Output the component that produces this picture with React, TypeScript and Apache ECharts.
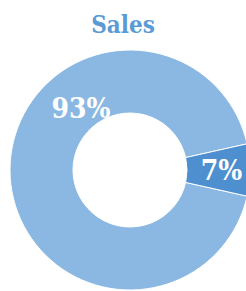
import React, { useEffect, useRef } from "react";
import * as echarts from "echarts";

const categories = ["Other", "Sales"];
const values = [93, 7];
const labels = ["93%", "7%"];
const colors = ["#8AB8E2", "#4E8FD0"];

export default function App() {
  const ref = useRef<HTMLDivElement>(null);
  useEffect(() => {
    if (!ref.current) return;
    const chart = echarts.init(ref.current, null, { renderer: "svg" });
    const font = "'DejaVu Serif Condensed', 'DejaVu Serif', serif";
    chart.setOption({
      animation: false,
      title: {
        text: "Sales",
        left: "center",
        top: 7,
        textStyle: {
          fontFamily: font,
          fontWeight: "bold",
          fontSize: 24,
          color: "#5B9BD5",
        },
      },
      series: [
        {
          type: "pie",
          center: [130, 170],
          radius: [57, 120],
          startAngle: -12.6,
          clockwise: true,
          avoidLabelOverlap: false,
          itemStyle: { borderColor: "#ffffff", borderWidth: 1 },
          label: {
            show: true,
            position: "inside",
            formatter: (p: any) => labels[p.dataIndex],
            fontFamily: font,
            fontWeight: "bold",
            fontSize: 28,
            color: "#ffffff",
          },
          labelLine: { show: false },
          labelLayout: (p: any) =>
            p.dataIndex === 0 ? { x: 81, y: 108, align: "center", verticalAlign: "middle" } : {},
          data: categories.map((c, i) => ({
            name: c,
            value: values[i],
            itemStyle: { color: colors[i] },
          })),
        },
      ],
    });
    return () => chart.dispose();
  }, []);
  return (
    <div
      ref={ref}
      style={{ position: "absolute", left: 0, top: 0, width: 246, height: 291 }}
    />
  );
}
